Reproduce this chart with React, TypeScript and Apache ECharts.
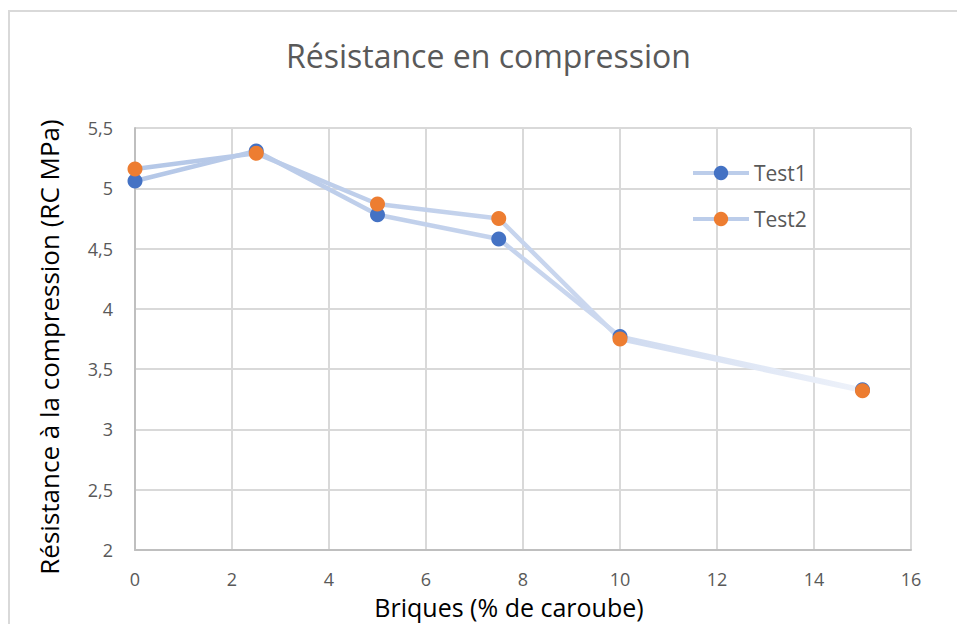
import React, { useEffect, useRef } from "react";
import * as echarts from "echarts";

const xValues = [0, 2.5, 5, 7.5, 10, 15];
const test1 = [5.06, 5.31, 4.78, 4.58, 3.77, 3.33];
const test2 = [5.16, 5.29, 4.87, 4.75, 3.75, 3.32];
const seriesNames = ["Test1", "Test2"];
const titleText = "Résistance en compression";
const xAxisName = "Briques (% de caroube)";
const yAxisName = "Résistance à la compression (RC MPa)";

const FONT = "'Open Sans', 'Noto Sans', sans-serif";
const labelColor = "#595959";

export default function App() {
  const ref = useRef<HTMLDivElement>(null);
  useEffect(() => {
    if (!ref.current) return;
    const chart = echarts.init(ref.current, undefined, { renderer: "svg" });
    const grad = () =>
      new echarts.graphic.LinearGradient(0, 0, 1, 0, [
        { offset: 0, color: "#b4c7e7" },
        { offset: 0.6, color: "#c9d6ee" },
        { offset: 1, color: "#eef2fa" },
      ]);
    const fmt = (v: number) => String(v).replace(".", ",");
    chart.setOption({
      animation: false,
      backgroundColor: "#ffffff",
      textStyle: { fontFamily: FONT },
      title: {
        text: titleText,
        left: 281,
        top: 34,
        textStyle: { fontFamily: FONT, fontSize: 32, fontWeight: "normal", color: labelColor },
      },
      graphic: [
        {
          type: "rect",
          shape: { x: 9, y: 11, width: 1000, height: 700 },
          style: { fill: "none", stroke: "#d9d9d9", lineWidth: 2 },
          silent: true,
        },
      ],
      legend: {
        orient: "vertical",
        left: 686,
        top: 157,
        itemWidth: 56,
        itemHeight: 18,
        itemGap: 24,
        lineStyle: { color: "#bccdea", width: 4 },
        textStyle: { fontFamily: FONT, fontSize: 21, color: labelColor, lineHeight: 22 },
        data: seriesNames,
      },
      grid: { left: 135, right: 46, top: 128, bottom: 73 },
      xAxis: {
        type: "value",
        min: 0,
        max: 16,
        interval: 2,
        name: xAxisName,
        nameLocation: "middle",
        nameGap: 44,
        nameTextStyle: { fontFamily: FONT, fontSize: 25, color: "#000000", padding: [0, 28, 0, 0] },
        axisLine: { show: true, lineStyle: { color: "#bfbfbf", width: 2 } },
        axisTick: { show: false },
        axisLabel: { fontFamily: FONT, fontSize: 18, color: labelColor, margin: 20, formatter: fmt },
        splitLine: { show: true, lineStyle: { color: "#d9d9d9", width: 2 } },
      },
      yAxis: {
        type: "value",
        min: 2,
        max: 5.5,
        interval: 0.5,
        name: yAxisName,
        nameLocation: "middle",
        nameGap: 73,
        nameTextStyle: { fontFamily: FONT, fontSize: 26, color: "#000000", padding: [0, 16, 0, 0] },
        axisLine: { show: true, lineStyle: { color: "#bfbfbf", width: 2 } },
        axisTick: { show: false },
        axisLabel: { fontFamily: FONT, fontSize: 18, color: labelColor, margin: 22, formatter: fmt },
        splitLine: { show: true, lineStyle: { color: "#d9d9d9", width: 2 } },
      },
      series: [
        {
          name: seriesNames[0],
          type: "line",
          data: xValues.map((x, i) => [x, test1[i]]),
          symbol: "circle",
          symbolSize: 15,
          itemStyle: { color: "#4472c4" },
          lineStyle: { color: grad(), width: 4.5 },
        },
        {
          name: seriesNames[1],
          type: "line",
          data: xValues.map((x, i) => [x, test2[i]]),
          symbol: "circle",
          symbolSize: 15,
          itemStyle: { color: "#ed7d31" },
          lineStyle: { color: grad(), width: 4.5 },
        },
      ],
    });
    return () => chart.dispose();
  }, []);
  return (
    <div
      ref={ref}
      style={{ position: "absolute", left: 0, top: 0, width: 957, height: 624 }}
    />
  );
}
